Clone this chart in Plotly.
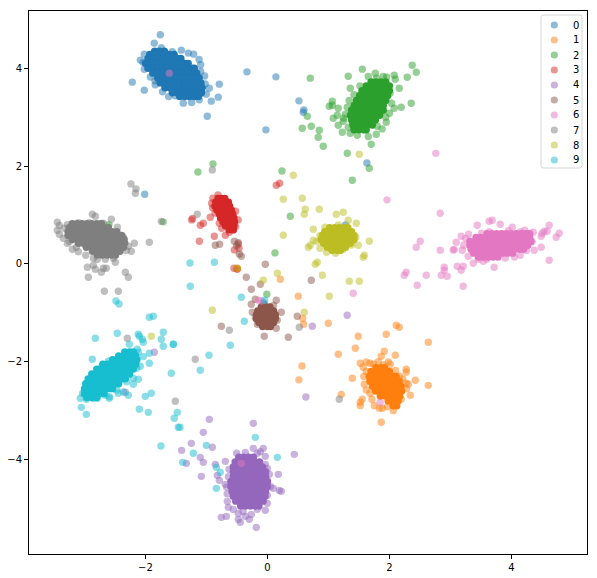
import plotly.graph_objects as go

labels = ["0", "1", "2", "3", "4", "5", "6", "7", "8", "9"]
colors = ["#1f77b4", "#ff7f0e", "#2ca02c", "#d62728", "#9467bd",
          "#8c564b", "#e377c2", "#7f7f7f", "#bcbd22", "#17becf"]
x_ticks = [-2, 0, 2, 4]
y_ticks = [-4, -2, 0, 2, 4]

# Points (drawn half transparent).
scatter_0 = [(-1.757,4.683),(-1.856,4.513),(-2.02,4.288),(-2.085,4.166),(-2.216,3.716),(-2.02,3.552),(-1.844,3.742),
 (-1.413,4.37),(-1.298,4.309),(-1.21,4.288),(-1.095,4.07),(-1.095,3.933),(-0.79,3.675),(-0.954,3.593),(-1.003,3.47),
 (-0.807,3.409),(-0.921,3.327),(-0.987,3.02),(-1.38,3.286),(-1.243,3.299),(-1.118,3.354),(-1.511,3.436),(-0.336,3.926),
 (0.139,3.824),(-0.025,2.74),(0.516,3.333),(0.598,3.149),(1.631,2.065),(0.588,3.1),(1.28,0.798),(-2.013,1.424),
 (-2.04,4.12),(-2.02,3.98),(-1.92,3.82),(-1.84,3.66),(-1.72,3.52),(-1.62,3.42),(-1.74,4.42),(-1.56,4.34),(-1.12,4.18),(-1.03,3.84),(-1.02,3.68),(-0.05,-0.82)]
scatter_1 = [(0.998,-1.214),(1.489,-1.48),(1.948,-1.439),(2.112,-1.255),(2.162,-1.295),(2.637,-1.602),(1.162,-1.848),
 (1.44,-1.725),(1.916,-1.786),(1.866,-1.888),(2.096,-1.868),(1.981,-2.004),(2.014,-2.052),(1.817,-1.998),(1.522,-2.032),
 (1.621,-2.004),(1.571,-2.113),(1.681,-2.032),(1.391,-2.338),(1.588,-2.461),(2.276,-2.154),(2.276,-2.216),(2.162,-2.291),
 (2.424,-2.379),(2.637,-2.482),(2.276,-2.441),(2.309,-2.461),(2.342,-2.686),(2.194,-2.768),(1.211,-2.666),(1.555,-2.768),
 (1.522,-2.829),(1.522,-2.897),(1.713,-2.768),(1.752,-2.897),(1.834,-2.952),(1.883,-2.952),(1.965,-2.918),(2.063,-3.0),
 (1.866,-3.238),(1.681,-2.645),(0.211,-0.314),(0.506,-0.662),(0.577,-1.111),(0.593,-1.234),(-0.494,-0.089),(0.516,-2.37),
 (0.566,-2.086),(-0.5,-0.1),(1.62,-2.2),(1.58,-2.3),(1.62,-2.58),(1.74,-2.05),(1.9,-2.06),(2.1,-2.18),(2.22,-2.35),(2.28,-2.55)]
scatter_2 = [(0.702,3.797),(1.325,3.837),(1.555,3.981),(1.768,3.899),(1.653,3.831),(1.899,3.831),(1.954,3.817),(2.079,3.858),
 (2.096,3.776),(2.292,3.817),(2.374,4.062),(2.44,3.919),(1.063,3.326),(1.014,3.224),(1.063,3.244),(1.161,3.183),(0.653,3.02),
 (0.571,2.774),(0.719,2.815),(0.85,2.733),(0.833,2.59),(0.915,2.406),(1.079,2.979),(1.145,3.04),(1.243,2.917),(1.161,2.835),
 (1.227,2.692),(1.309,2.263),(1.702,2.447),(1.67,1.956),(1.784,2.651),(1.948,2.897),(1.801,2.815),(2.079,3.183),(2.194,3.203),
 (2.358,3.285),(2.161,3.592),(1.358,3.592),(1.309,3.203),(1.325,2.795),(1.358,2.672),(1.473,2.631),(1.653,2.604),(2.008,3.49),
 (2.036,3.285),(1.517,3.64),(1.79,3.797),(-1.14,1.88),(-0.893,2.045),(0.238,1.9),(1.391,1.711),(-1.71,0.86),(0.123,0.225),
 (0.375,0.975),(-2.609,0.75),(-2.6,0.8),(-0.01,-0.62),(1.42,3.46),(1.34,3.34),(1.28,3.06),(1.25,2.98),(1.94,3.0),(1.88,2.76),(2.0,3.08)]
scatter_3 = [(-0.811,1.411),(-0.893,1.343),(-0.915,1.24),(-0.522,1.077),(-0.937,0.954),(-1.243,0.9),(-1.226,0.927),(-1.052,0.831),
 (-1.101,0.79),(-0.871,0.565),(-1.117,0.463),(-0.691,0.586),(-0.751,0.729),(-0.625,0.647),(-0.543,0.286),(-0.467,0.32),
 (-0.478,0.409),(-0.549,-0.089),(-0.494,-0.11),(0.145,1.608),(0.2,1.649),(-0.789,0.831),(-0.522,0.763),(-0.56,0.695),(-0.9,1.15),(-0.86,1.04),(-0.48,0.9)]
scatter_4 = [(-0.953,-3.177),(-0.232,-3.259),(-1.052,-3.443),(-1.248,-3.668),(-0.904,-3.749),(-1.407,-3.811),(-1.101,-3.954),
 (-1.052,-4.056),(-1.33,-4.077),(-0.855,-4.097),(-0.822,-4.322),(-1.084,-4.343),(-0.789,-4.424),(-0.691,-4.036),(-0.691,-4.506),
 (-0.669,-4.567),(-0.505,-3.872),(-0.363,-3.852),(-0.232,-3.77),(-0.068,-3.77),(-0.117,-3.838),(-0.166,-3.872),(-0.035,-3.934),
 (0.44,-3.893),(-0.035,-4.097),(-0.002,-4.179),(0.178,-4.302),(-0.002,-4.424),(0.096,-4.588),(0.194,-4.629),(0.227,-4.649),
 (-0.002,-4.731),(-0.002,-4.895),(-0.035,-5.038),(-0.166,-5.017),(-0.265,-5.12),(-0.297,-5.222),(-0.363,-5.16),(-0.445,-5.283),
 (-0.478,-5.222),(-0.674,-5.16),(-0.756,-5.181),(-0.183,-5.385),(-0.642,-4.976),(-0.658,-4.854),(-0.478,-5.099),(-1.855,-1.807),
 (-2.331,-2.625),(1.308,-1.05),(0.735,-1.275),(0.63,-2.72),(-0.63,-4.2),(-0.64,-4.35),(-0.66,-4.7),(-0.56,-5.02),(-0.4,-5.06),(0.03,-4.3),(0.05,-4.55)]
scatter_5 = [(-0.855,0.381),(-0.784,0.402),(-0.543,0.463),(-0.478,0.436),(-0.505,0.368),(-0.461,0.204),(-0.429,0.156),(-0.035,-0.007),
 (-0.347,-0.273),(-0.117,-0.416),(-0.265,-0.518),(-0.199,-0.723),(-0.265,-0.825),(0.145,-0.743),(0.227,-0.989),(-0.248,-0.989),
 (-0.166,-1.234),(0.145,-1.316),(-0.052,-1.48),(0.342,-1.5),(0.489,-1.07),(0.719,-0.334),(-0.756,-1.275),(-0.07,-0.8),(0.1,-0.85),
 (0.16,-1.15),(-0.2,-1.1)]
scatter_6 = [(2.833,1.036),(3.44,0.79),(3.636,0.872),(3.686,0.893),(3.817,0.811),(4.014,0.75),(4.221,0.688),(4.358,0.647),(4.62,0.79),
 (4.587,0.668),(4.538,0.668),(4.505,0.627),(4.489,0.565),(4.784,0.627),(4.735,0.545),(4.489,0.341),(4.374,0.279),(4.249,0.272),
 (4.62,0.075),(4.145,0.177),(3.718,-0.068),(3.538,0.054),(3.374,0.013),(3.456,0.095),(3.292,0.156),(3.194,0.279),(3.095,0.443),
 (3.177,0.565),(3.298,0.606),(3.511,0.627),(3.636,0.661),(3.21,-0.048),(3.112,-0.048),(3.177,-0.13),(2.899,-0.068),(2.899,-0.13),
 (2.85,-0.232),(2.948,-0.253),(2.604,-0.232),(2.276,-0.171),(2.243,-0.232),(2.456,-0.437),(3.21,-0.457),(2.833,0.279),(3.046,0.286),
 (3.063,0.293),(2.505,0.463),(2.44,0.341),(4.341,0.456),(2.76,2.26),(1.96,1.31),(1.407,-0.6),(-0.15,-0.743),(-0.095,-0.757),
 (1.849,-2.829),(-0.429,-4.077),(-1.61,3.9),(3.25,0.52),(3.22,0.38),(3.9,0.12),(4.05,0.14),(3.95,0.68),(4.15,0.66),(3.6,0.1)]
scatter_7 = [(-2.871,1.015),(-2.822,0.974),(-2.56,0.913),(-2.691,0.831),(-2.461,0.749),(-3.445,0.852),(-3.412,0.784),(-3.33,0.729),
 (-3.445,0.688),(-3.412,0.606),(-3.347,0.525),(-3.248,0.456),(-3.199,0.3),(-3.133,0.341),(-2.98,0.177),(-2.855,0.116),(-2.789,0.095),
 (-2.658,0.095),(-2.527,0.116),(-2.494,0.034),(-2.855,-0.028),(-2.953,-0.068),(-2.822,-0.109),(-2.724,-0.171),(-2.691,-0.089),
 (-2.642,-0.089),(-2.937,-0.273),(-2.33,-0.171),(-2.281,-0.273),(-2.674,-0.559),(-2.445,-0.559),(-1.937,0.443),(-2.183,0.422),
 (-2.281,0.361),(-2.232,0.259),(-2.363,0.545),(-2.314,0.272),(-2.166,1.445),(-2.238,1.636),(-2.156,1.534),(-1.74,0.87),(-1.15,1.015),
 (-0.904,1.922),(-0.625,-1.357),(0.522,-1.295),(1.178,-2.767),(-2.298,-1.52),(-1.183,-1.95),(-1.511,-2.809),(-3.28,0.8),(-3.1,0.84),(-2.92,0.84),(-2.75,0.82),(-3.28,0.42),(-3.1,0.25)]
scatter_8 = [(0.424,1.813),(0.26,1.322),(0.571,1.343),(0.62,1.118),(0.604,1.015),(0.85,1.118),(1.129,1.015),(1.243,1.056),(1.325,0.893),
 (1.457,0.831),(0.752,0.709),(0.26,0.586),(0.752,0.484),(0.67,0.34),(0.703,0.381),(1.49,0.381),(1.67,0.463),(1.588,0.177),(1.571,0.136),
 (0.784,-0.007),(0.817,0.034),(0.9,-0.232),(0.162,-0.191),(-0.068,-0.334),(1.342,-0.355),(1.506,-0.355),(1.014,-0.661),(0.604,-0.989),
 (-0.904,-0.948),(-0.494,-0.089),(1.506,2.242),(-1.905,-1.48),(0.943,0.75),(1.162,0.797),(1.298,0.729),(1.38,0.627),(1.451,0.545),
 (1.38,0.388),(1.243,0.3),(1.118,0.218),(0.97,0.238),(0.861,0.32),(0.806,0.456),(0.861,0.579)]
scatter_9 = [(-1.937,-1.091),(-1.872,-1.07),(-2.823,-1.52),(-2.462,-1.418),(-2.118,-1.439),(-2.101,-1.48),(-2.052,-1.541),(-2.036,-1.602),
 (-2.265,-1.643),(-1.708,-1.398),(-1.741,-1.541),(-1.708,-1.684),(-1.544,-1.643),(-2.134,-1.745),(-2.118,-1.807),(-1.937,-1.827),
 (-2.036,-1.895),(-1.937,-2.032),(-2.085,-2.093),(-2.872,-1.95),(-2.61,-1.991),(-1.577,-2.236),(-1.101,-2.175),(-0.959,-1.868),
 (-2.118,-2.359),(-2.2,-2.461),(-2.2,-2.339),(-2.446,-2.645),(-2.364,-2.618),(-2.282,-2.686),(-2.003,-2.707),(-1.905,-2.645),
 (-2.101,-2.972),(-1.954,-3.034),(-1.478,-3.034),(-1.528,-3.156),(-1.462,-3.34),(-3.052,-2.932),(-2.97,-3.075),(-3.069,-2.747),
 (-2.79,-2.747),(-2.593,-2.747),(-2.593,-2.713),(-2.97,-2.768),(-2.965,-2.441),(-3.03,-2.645),(-2.883,-2.27),(-2.72,-2.1),(-2.5,-1.963),
 (-2.282,-1.827),(-2.227,-1.963),(-2.145,-2.134),(-2.309,-2.407),(-2.473,-2.577),(-2.664,-2.68),(-2.856,-2.747),(-0.199,-3.545),
 (-1.215,-3.872),(-1.002,-3.709),(-1.39,-4.056),(0.162,-3.954),(-0.838,-4.158),(-0.773,-4.261),(-0.838,-4.588),(-1.434,-3.34),
 (-1.746,-3.722),(-2.484,-0.757),(-2.434,-0.818),(-0.871,0.034),(-1.265,-0.457),(-0.429,-0.682),(-0.379,-1.173),(-1.543,-1.643),
 (-0.609,-1.664),(-0.046,-0.743),(-1.27,0.02)]

# Saturated cores, where hundreds of overlapping points read as solid colour: y -> x values.
core_0 = {4.35:[-1.85,-1.77,-1.69], 4.28:[-1.93,-1.85,-1.77,-1.69,-1.61,-1.53], 4.2:[-1.96,-1.88,-1.8,-1.72,-1.64,-1.56,-1.48,-1.42], 4.1:[-2.0,-1.92,-1.84,-1.76,-1.68,-1.6,-1.52,-1.44,-1.36,-1.3],
 4.0:[-1.96,-1.88,-1.8,-1.72,-1.64,-1.56,-1.48,-1.4,-1.32,-1.24,-1.2], 3.9:[-1.88,-1.8,-1.72,-1.64,-1.56,-1.48,-1.4,-1.32,-1.24,-1.16], 3.8:[-1.8,-1.72,-1.64,-1.56,-1.48,-1.4,-1.32,-1.24,-1.16,-1.12],
 3.7:[-1.76,-1.68,-1.6,-1.52,-1.44,-1.36,-1.28,-1.2,-1.12,-1.09], 3.6:[-1.68,-1.6,-1.52,-1.44,-1.36,-1.28,-1.2,-1.12,-1.07], 3.5:[-1.56,-1.48,-1.4,-1.32,-1.24,-1.16,-1.08], 3.42:[-1.44,-1.36,-1.28,-1.2,-1.13]}
core_1 = {-2.12:[1.78,1.86,1.92], -2.2:[1.7,1.78,1.86,1.94,2.0], -2.3:[1.67,1.75,1.83,1.91,1.99,2.07,2.11], -2.4:[1.68,1.76,1.84,1.92,2.0,2.08,2.16], -2.5:[1.72,1.8,1.88,1.96,2.04,2.12,2.19],
 -2.6:[1.77,1.85,1.93,2.01,2.09,2.17,2.2], -2.7:[1.85,1.93,2.01,2.09,2.17], -2.8:[1.98,2.06,2.14], -2.9:[2.06,2.12]}
core_2 = {3.72:[1.7,1.78,1.86,1.94], 3.64:[1.62,1.7,1.78,1.86,1.94,2.0], 3.54:[1.55,1.63,1.71,1.79,1.87,1.95,2.0], 3.44:[1.51,1.59,1.67,1.75,1.83,1.91,1.97], 3.34:[1.46,1.54,1.62,1.7,1.78,1.86,1.94],
 3.24:[1.42,1.5,1.58,1.66,1.74,1.82,1.9], 3.14:[1.38,1.46,1.54,1.62,1.7,1.78,1.86,1.9], 3.04:[1.36,1.44,1.52,1.6,1.68,1.76,1.84], 2.94:[1.38,1.46,1.54,1.62,1.7,1.77],
 2.84:[1.4,1.48,1.56,1.64,1.72], 2.74:[1.42,1.5,1.58,1.62]}
core_3 = {1.34:[-0.81,-0.75,-0.7], 1.26:[-0.85,-0.77,-0.69,-0.64], 1.18:[-0.86,-0.78,-0.7,-0.62], 1.1:[-0.83,-0.75,-0.67,-0.59], 1.02:[-0.79,-0.71,-0.63,-0.57], 0.94:[-0.77,-0.69,-0.61,-0.55],
 0.86:[-0.73,-0.65,-0.57,-0.54], 0.78:[-0.69,-0.61,-0.55], 0.7:[-0.63,-0.56]}
core_4 = {-3.95:[-0.47,-0.39,-0.31,-0.23], -4.05:[-0.53,-0.45,-0.37,-0.29,-0.21,-0.13], -4.15:[-0.56,-0.48,-0.4,-0.32,-0.24,-0.16,-0.08],
 -4.25:[-0.56,-0.48,-0.4,-0.32,-0.24,-0.16,-0.08,-0.03], -4.35:[-0.56,-0.48,-0.4,-0.32,-0.24,-0.16,-0.08,-0.03], -4.45:[-0.6,-0.52,-0.44,-0.36,-0.28,-0.2,-0.12,-0.04,0.0],
 -4.55:[-0.6,-0.52,-0.44,-0.36,-0.28,-0.2,-0.12,-0.04,0.0], -4.65:[-0.58,-0.5,-0.42,-0.34,-0.26,-0.18,-0.1,-0.03], -4.75:[-0.56,-0.48,-0.4,-0.32,-0.24,-0.16,-0.08,-0.04],
 -4.85:[-0.52,-0.44,-0.36,-0.28,-0.2,-0.12,-0.07], -4.95:[-0.44,-0.36,-0.28,-0.2,-0.14]}
core_5 = {-0.88:[-0.1,-0.02,0.04], -0.96:[-0.16,-0.08,0.0,0.08,0.1], -1.04:[-0.18,-0.1,-0.02,0.06,0.13], -1.12:[-0.18,-0.1,-0.02,0.06,0.13], -1.2:[-0.14,-0.06,0.02,0.1], -1.28:[-0.08,0.0,0.05]}
core_6 = {0.62:[3.6,3.68,3.76,3.84,3.92,4.0,4.08,4.16,4.24,4.3], 0.54:[3.42,3.5,3.58,3.66,3.74,3.82,3.9,3.98,4.06,4.14,4.22,4.3], 0.46:[3.32,3.4,3.48,3.56,3.64,3.72,3.8,3.88,3.96,4.04,4.12,4.2,4.28,4.32],
 0.38:[3.32,3.4,3.48,3.56,3.64,3.72,3.8,3.88,3.96,4.04,4.12,4.2,4.27], 0.3:[3.34,3.42,3.5,3.58,3.66,3.74,3.82,3.9,3.98,4.06,4.14,4.2],
 0.22:[3.38,3.46,3.54,3.62,3.7,3.78,3.86,3.94,4.02], 0.14:[3.46,3.54,3.62,3.7,3.78]}
core_7 = {0.82:[-3.2,-3.12,-3.04,-2.96,-2.88,-2.8,-2.72], 0.74:[-3.25,-3.17,-3.09,-3.01,-2.93,-2.85,-2.77,-2.69,-2.61], 0.66:[-3.27,-3.19,-3.11,-3.03,-2.95,-2.87,-2.79,-2.71,-2.63,-2.55,-2.47],
 0.58:[-3.27,-3.19,-3.11,-3.03,-2.95,-2.87,-2.79,-2.71,-2.63,-2.55,-2.47,-2.39], 0.5:[-3.2,-3.12,-3.04,-2.96,-2.88,-2.8,-2.72,-2.64,-2.56,-2.48,-2.4,-2.35],
 0.42:[-3.1,-3.02,-2.94,-2.86,-2.78,-2.7,-2.62,-2.54,-2.46,-2.38,-2.34], 0.34:[-2.97,-2.89,-2.81,-2.73,-2.65,-2.57,-2.49,-2.41,-2.36],
 0.26:[-2.87,-2.79,-2.71,-2.63,-2.55,-2.47,-2.42], 0.18:[-2.79,-2.71,-2.63,-2.55,-2.49]}
core_8 = {0.74:[1.02,1.1,1.18,1.26,1.32], 0.66:[0.94,1.02,1.1,1.18,1.26,1.34,1.38], 0.58:[0.9,0.98,1.06,1.14,1.22,1.3,1.38,1.42], 0.5:[0.88,0.96,1.04,1.12,1.2,1.28,1.36,1.42],
 0.42:[0.92,1.0,1.08,1.16,1.24,1.32,1.36], 0.34:[0.98,1.06,1.14,1.22,1.28], 0.28:[1.06,1.14,1.2]}
core_9 = {-1.8:[-2.34,-2.26,-2.2], -1.88:[-2.44,-2.36,-2.28,-2.2,-2.16], -1.96:[-2.54,-2.46,-2.38,-2.3,-2.22,-2.14], -2.05:[-2.7,-2.62,-2.54,-2.46,-2.38,-2.3,-2.22,-2.16],
 -2.15:[-2.8,-2.72,-2.64,-2.56,-2.48,-2.4,-2.32,-2.24,-2.2], -2.25:[-2.88,-2.8,-2.72,-2.64,-2.56,-2.48,-2.4,-2.32,-2.26], -2.35:[-2.94,-2.86,-2.78,-2.7,-2.62,-2.54,-2.46,-2.38,-2.33],
 -2.45:[-2.98,-2.9,-2.82,-2.74,-2.66,-2.58,-2.5,-2.44], -2.55:[-3.0,-2.92,-2.84,-2.76,-2.68,-2.6,-2.54], -2.65:[-3.0,-2.92,-2.84,-2.76,-2.68], -2.73:[-2.96,-2.88,-2.8]}

scatters = [scatter_0, scatter_1, scatter_2, scatter_3, scatter_4, scatter_5, scatter_6, scatter_7, scatter_8, scatter_9]
cores = [core_0, core_1, core_2, core_3, core_4, core_5, core_6, core_7, core_8, core_9]

fig = go.Figure()
for label, color, pts, core in zip(labels, colors, scatters, cores):
    cx = [x for y, xs in core.items() for x in xs]
    cy = [y for y, xs in core.items() for x in xs]
    fig.add_trace(go.Scatter(x=cx, y=cy, mode="markers", showlegend=False,
                             marker=dict(size=7.4, color=color, line=dict(width=0)), hoverinfo="skip"))
    fig.add_trace(go.Scatter(x=[p[0] for p in pts], y=[p[1] for p in pts], mode="markers", name=label, showlegend=False,
                             marker=dict(size=7.4, color=color, opacity=0.5, line=dict(width=0))))

# Legend drawn to match the compact 15 px row spacing of the reference.
L, R, T, B = 29, 587, 11, 554
def px(v): return (v - L) / (R - L)
def py(v): return (B - v) / (B - T)
x0, x1, y0, y1, r = 541, 582, 15, 168, 2.5
frame = (f"M {px(x0+r)} {py(y0)} L {px(x1-r)} {py(y0)} Q {px(x1)} {py(y0)} {px(x1)} {py(y0+r)} "
         f"L {px(x1)} {py(y1-r)} Q {px(x1)} {py(y1)} {px(x1-r)} {py(y1)} L {px(x0+r)} {py(y1)} "
         f"Q {px(x0)} {py(y1)} {px(x0)} {py(y1-r)} L {px(x0)} {py(y0+r)} Q {px(x0)} {py(y0)} {px(x0+r)} {py(y0)} Z")
shapes = [dict(type="path", path=frame, xref="paper", yref="paper", layer="above",
               fillcolor="rgba(255,255,255,0.8)", line=dict(color="#d5d5d5", width=1))]
annotations = []
for i, (label, color) in enumerate(zip(labels, colors)):
    cy_ = 25 + 15 * i
    shapes.append(dict(type="circle", xref="paper", yref="paper", layer="above", opacity=0.5,
                       x0=px(554.3 - 3.6), x1=px(554.3 + 3.6), y0=py(cy_ + 3.6), y1=py(cy_ - 3.6),
                       fillcolor=color, line=dict(width=0)))
    annotations.append(dict(text=label, xref="paper", yref="paper", x=px(571), y=py(cy_), xanchor="left",
                            yanchor="middle", showarrow=False, font=dict(size=10, color="black")))

axis = dict(showgrid=False, zeroline=False, showline=True, mirror=True, linecolor="black", linewidth=1, automargin=False,
            ticks="outside", ticklen=4, tickwidth=1, tickcolor="black", tickfont=dict(size=10, color="black"))
fig.update_layout(
    width=597, height=578, margin=dict(l=L, r=597 - R, t=T, b=578 - B, autoexpand=False),
    paper_bgcolor="white", plot_bgcolor="white", showlegend=False,
    font=dict(family="DejaVu Sans", size=10, color="black"),
    xaxis=dict(range=[-3.91, 5.24], tickvals=x_ticks, **axis),
    yaxis=dict(range=[-5.93, 5.17], tickvals=y_ticks, **axis),
    shapes=shapes, annotations=annotations,
)
fig.write_html("out.html", config=dict(displayModeBar=False),
               post_script="document.body.style.margin='0';document.body.style.overflow='hidden';")
